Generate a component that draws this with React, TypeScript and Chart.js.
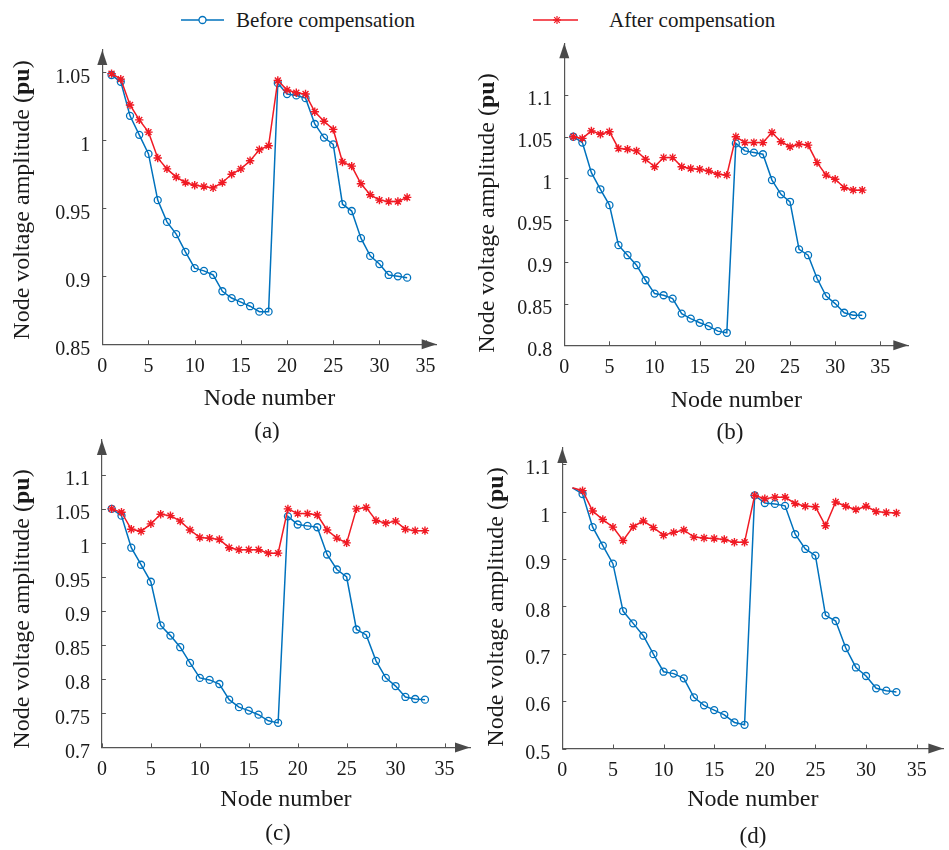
import React, { useEffect, useRef } from "react";
import { Chart, registerables } from "chart.js";

Chart.register(...registerables);

// ---------------- DATA ----------------
const nodes = [1, 2, 3, 4, 5, 6, 7, 8, 9, 10, 11, 12, 13, 14, 15, 16, 17, 18, 19, 20, 21, 22, 23, 24, 25, 26, 27, 28, 29, 30, 31, 32, 33];

const beforeA = [1.048, 1.043, 1.018, 1.004, 0.990, 0.956, 0.940, 0.931, 0.918, 0.906, 0.904, 0.901, 0.889, 0.884, 0.881, 0.878, 0.874, 0.874, 1.042, 1.034, 1.033, 1.031, 1.012, 1.002, 0.997, 0.953, 0.948, 0.928, 0.915, 0.909, 0.901, 0.900, 0.899];
const afterA = [1.049, 1.045, 1.026, 1.015, 1.006, 0.987, 0.979, 0.973, 0.969, 0.967, 0.966, 0.965, 0.969, 0.975, 0.979, 0.985, 0.993, 0.996, 1.044, 1.037, 1.035, 1.034, 1.021, 1.014, 1.008, 0.984, 0.981, 0.968, 0.960, 0.956, 0.955, 0.955, 0.958];

const beforeB = [1.050, 1.043, 1.007, 0.987, 0.968, 0.920, 0.908, 0.896, 0.878, 0.862, 0.860, 0.856, 0.838, 0.832, 0.827, 0.823, 0.817, 0.815, 1.042, 1.033, 1.031, 1.029, 0.998, 0.981, 0.972, 0.915, 0.908, 0.880, 0.859, 0.850, 0.839, 0.836, 0.836];
const afterB = [1.050, 1.048, 1.057, 1.053, 1.056, 1.036, 1.035, 1.033, 1.023, 1.014, 1.025, 1.025, 1.014, 1.012, 1.011, 1.009, 1.005, 1.004, 1.050, 1.043, 1.043, 1.043, 1.055, 1.044, 1.038, 1.041, 1.040, 1.019, 1.004, 0.999, 0.989, 0.986, 0.986];

const beforeC = [1.050, 1.040, 0.993, 0.968, 0.943, 0.879, 0.864, 0.847, 0.824, 0.802, 0.799, 0.793, 0.770, 0.759, 0.754, 0.748, 0.739, 0.736, 1.039, 1.027, 1.025, 1.023, 0.983, 0.961, 0.950, 0.873, 0.865, 0.827, 0.802, 0.790, 0.774, 0.771, 0.770];
const afterC = [1.050, 1.045, 1.020, 1.017, 1.028, 1.042, 1.040, 1.032, 1.019, 1.008, 1.007, 1.005, 0.993, 0.990, 0.990, 0.990, 0.985, 0.985, 1.050, 1.043, 1.043, 1.041, 1.019, 1.007, 1.000, 1.050, 1.052, 1.033, 1.029, 1.032, 1.020, 1.018, 1.018];

const beforeD = [1.050, 1.037, 0.967, 0.928, 0.890, 0.790, 0.764, 0.738, 0.699, 0.662, 0.658, 0.648, 0.608, 0.591, 0.581, 0.571, 0.555, 0.550, 1.034, 1.018, 1.016, 1.012, 0.952, 0.921, 0.907, 0.781, 0.769, 0.712, 0.671, 0.653, 0.627, 0.622, 0.619];
const afterD = [1.050, 1.044, 1.001, 0.983, 0.967, 0.939, 0.968, 0.980, 0.966, 0.950, 0.956, 0.961, 0.946, 0.944, 0.943, 0.941, 0.935, 0.935, 1.034, 1.027, 1.030, 1.030, 1.017, 1.011, 1.010, 0.970, 1.020, 1.011, 1.004, 1.011, 1.000, 0.998, 0.997];

const xTicks = [0, 5, 10, 15, 20, 25, 30, 35];
const yTicksA = [0.85, 0.9, 0.95, 1, 1.05];
const yTicksB = [0.8, 0.85, 0.9, 0.95, 1, 1.05, 1.1];
const yTicksC = [0.7, 0.75, 0.8, 0.85, 0.9, 0.95, 1, 1.05, 1.1];
const yTicksD = [0.5, 0.6, 0.7, 0.8, 0.9, 1, 1.1];

const seriesNames = ["Before compensation", "After compensation"];
const captions = ["(a)", "(b)", "(c)", "(d)"];
const xTitle = "Node number";
const yTitleMain = "Node voltage amplitude (";
const yTitleBold = "pu";
const yTitleEnd = ")";

// ---------------- STYLE ----------------
const FONT = '"Liberation Serif", "Times New Roman", serif';
const BLUE = "#0072BD";
const RED = "#F01A24";
const AXIS = "#555555";
const TEXT = "#1a1a1a";

type PanelCfg = {
  before: number[];
  after: number[];
  yTicks: number[];
  xMax: number;
  yMin: number;
  yMax: number;
  hideFirst: boolean;
  caption: string;
  canvas: [number, number, number, number];
  axisLeft: number;
  axisBottom: number;
  tipTop: number;
  tipRight: number;
  xTitleY: number;
  yTitleX: number;
  yTitleY: number;
  captionPos: [number, number];
};

const panels: PanelCfg[] = [
  {
    before: beforeA, after: afterA, yTicks: yTicksA, xMax: 36.2, yMin: 0.85, yMax: 1.0664, hideFirst: false, caption: captions[0],
    canvas: [0, 20, 470, 420], axisLeft: 102.3, axisBottom: 344.3, tipTop: 50, tipRight: 436.7,
    xTitleY: 398.3, yTitleX: 23, yTitleY: 200, captionPos: [267, 431],
  },
  {
    before: beforeB, after: afterB, yTicks: yTicksB, xMax: 38.1, yMin: 0.8, yMax: 1.162, hideFirst: false, caption: captions[1],
    canvas: [470, 13, 479, 427], axisLeft: 564.3, axisBottom: 345.3, tipTop: 43.3, tipRight: 908.3,
    xTitleY: 400.7, yTitleX: 488, yTitleY: 213, captionPos: [730, 432],
  },
  {
    before: beforeC, after: afterC, yTicks: yTicksC, xMax: 37.6, yMin: 0.7, yMax: 1.151, hideFirst: false, caption: captions[2],
    canvas: [0, 410, 480, 440], axisLeft: 101.9, axisBottom: 747.4, tipTop: 440, tipRight: 470,
    xTitleY: 800, yTitleX: 23, yTitleY: 609, captionPos: [278, 833],
  },
  {
    before: beforeD, after: afterD, yTicks: yTicksD, xMax: 37.64, yMin: 0.5, yMax: 1.134, hideFirst: true, caption: captions[3],
    canvas: [480, 418, 469, 432], axisLeft: 562.3, axisBottom: 748.5, tipTop: 448, tipRight: 947,
    xTitleY: 800, yTitleX: 497, yTitleY: 607, captionPos: [753, 836],
  },
];

function fmt(v: number) {
  return String(+Number(v).toFixed(2));
}

function Panel({ cfg }: { cfg: PanelCfg }) {
  const ref = useRef<HTMLCanvasElement | null>(null);
  const [cl, ct, cw, ch] = cfg.canvas;

  useEffect(() => {
    const canvas = ref.current;
    if (!canvas) return;

    const padTop = cfg.tipTop - ct;
    const padRight = cl + cw - cfg.tipRight;
    const yScaleW = cfg.axisLeft - cl;
    const xScaleH = ct + ch - cfg.axisBottom;
    const titleSize = 24;
    const titlePadBottom = ct + ch - cfg.xTitleY - (titleSize * 1.2) / 2;

    const decor = {
      id: "axisDecor",
      afterDraw(chart: any) {
        const { ctx, chartArea, scales } = chart;
        const xs = scales.x;
        const ys = scales.y;
        const x0 = chartArea.left;
        const y0 = chartArea.bottom;
        ctx.save();
        ctx.strokeStyle = AXIS;
        ctx.lineWidth = 1;
        // inward tick marks
        xTicks.forEach((v) => {
          const px = Math.round(xs.getPixelForValue(v)) + 0.5;
          ctx.beginPath();
          ctx.moveTo(px, y0);
          ctx.lineTo(px, y0 - 4);
          ctx.stroke();
        });
        cfg.yTicks.forEach((v) => {
          const py = Math.round(ys.getPixelForValue(v)) + 0.5;
          ctx.beginPath();
          ctx.moveTo(x0, py);
          ctx.lineTo(x0 + 4, py);
          ctx.stroke();
        });
        // arrowheads
        ctx.fillStyle = "#4a4a4a";
        ctx.beginPath();
        ctx.moveTo(x0, chartArea.top);
        ctx.lineTo(x0 - 5, chartArea.top + 15);
        ctx.lineTo(x0 + 5, chartArea.top + 15);
        ctx.closePath();
        ctx.fill();
        ctx.beginPath();
        ctx.moveTo(chartArea.right, y0);
        ctx.lineTo(chartArea.right - 15, y0 - 5);
        ctx.lineTo(chartArea.right - 15, y0 + 5);
        ctx.closePath();
        ctx.fill();
        // y-axis title with bold unit
        const tx = cfg.yTitleX - cl;
        const ty = cfg.yTitleY - ct;
        ctx.translate(tx, ty);
        ctx.rotate(-Math.PI / 2);
        ctx.fillStyle = TEXT;
        ctx.textBaseline = "middle";
        ctx.textAlign = "left";
        const normal = `${titleSize}px ${FONT}`;
        const bold = `bold ${titleSize}px ${FONT}`;
        ctx.font = normal;
        const w1 = ctx.measureText(yTitleMain).width;
        const w3 = ctx.measureText(yTitleEnd).width;
        ctx.font = bold;
        const w2 = ctx.measureText(yTitleBold).width;
        let sx = -(w1 + w2 + w3) / 2;
        ctx.font = normal;
        ctx.fillText(yTitleMain, sx, 0);
        sx += w1;
        ctx.font = bold;
        ctx.fillText(yTitleBold, sx, 0);
        sx += w2;
        ctx.font = normal;
        ctx.fillText(yTitleEnd, sx, 0);
        ctx.restore();
      },
    };

    const radiusFn = (r: number) => (c: any) => (cfg.hideFirst && c.dataIndex === 0 ? 0 : r);

    const chart = new Chart(canvas, {
      type: "line",
      data: {
        datasets: [
          {
            label: seriesNames[1],
            data: nodes.map((n, i) => ({ x: n, y: cfg.after[i] })),
            borderColor: RED,
            backgroundColor: RED,
            borderWidth: 1.5,
            pointStyle: "star",
            pointRadius: radiusFn(4.2),
            pointBorderWidth: 1.4,
            pointBorderColor: RED,
            fill: false,
            tension: 0,
            order: 0,
          },
          {
            label: seriesNames[0],
            data: nodes.map((n, i) => ({ x: n, y: cfg.before[i] })),
            borderColor: BLUE,
            backgroundColor: "rgba(255,255,255,0)",
            borderWidth: 1.5,
            pointStyle: "circle",
            pointRadius: radiusFn(3.5),
            pointBorderWidth: 1.3,
            pointBorderColor: BLUE,
            pointBackgroundColor: "rgba(255,255,255,0)",
            fill: false,
            tension: 0,
            order: 1,
          },
        ],
      },
      options: {
        responsive: false,
        animation: false,
        events: [],
        layout: { padding: { top: padTop, right: padRight, left: 0, bottom: 0 } },
        plugins: { legend: { display: false }, tooltip: { enabled: false }, title: { display: false } },
        scales: {
          x: {
            type: "linear",
            min: 0,
            max: cfg.xMax,
            afterBuildTicks: (s: any) => {
              s.ticks = xTicks.map((v) => ({ value: v }));
            },
            afterFit: (s: any) => {
              s.height = xScaleH;
            },
            grid: { display: false, drawTicks: false },
            border: { display: true, color: AXIS, width: 1.2 },
            ticks: {
              padding: 10,
              color: TEXT,
              font: { family: FONT, size: 20 },
              maxRotation: 0,
              autoSkip: false,
              callback: (v: any) => String(v),
            },
            title: {
              display: true,
              text: xTitle,
              color: TEXT,
              font: { family: FONT, size: titleSize },
              padding: { top: 0, bottom: titlePadBottom },
            },
          },
          y: {
            type: "linear",
            min: cfg.yMin,
            max: cfg.yMax,
            afterBuildTicks: (s: any) => {
              s.ticks = cfg.yTicks.map((v) => ({ value: v }));
            },
            afterFit: (s: any) => {
              s.width = yScaleW;
            },
            grid: { display: false, drawTicks: false },
            border: { display: true, color: AXIS, width: 1.2 },
            ticks: {
              padding: 12,
              labelOffset: 5,
              color: TEXT,
              font: { family: FONT, size: 20 },
              autoSkip: false,
              callback: (v: any) => fmt(v),
            },
          },
        },
      },
      plugins: [decor],
    } as any);

    return () => {
      chart.destroy();
    };
  }, []);

  return (
    <>
      <canvas
        ref={ref}
        width={cw}
        height={ch}
        style={{ position: "absolute", left: cl, top: ct, width: cw, height: ch }}
      />
      <div
        style={{
          position: "absolute",
          left: cfg.captionPos[0] - 40,
          top: cfg.captionPos[1] - 14,
          width: 80,
          height: 28,
          lineHeight: "28px",
          textAlign: "center",
          fontFamily: FONT,
          fontSize: 23,
          color: TEXT,
        }}
      >
        {cfg.caption}
      </div>
    </>
  );
}

function Legend() {
  const textStyle: React.CSSProperties = {
    position: "absolute",
    top: 8,
    height: 24,
    lineHeight: "24px",
    fontFamily: FONT,
    fontSize: 21,
    color: TEXT,
    whiteSpace: "nowrap",
  };
  return (
    <>
      <svg style={{ position: "absolute", left: 0, top: 0 }} width={949} height={40}>
        <line x1={181} y1={20} x2={224} y2={20} stroke={BLUE} strokeWidth={1.5} />
        <circle cx={202.5} cy={20} r={3.5} fill="#fff" stroke={BLUE} strokeWidth={1.3} />
        <line x1={533} y1={20} x2={578} y2={20} stroke={RED} strokeWidth={1.5} />
        <g stroke={RED} strokeWidth={1.2}>
          <line x1={557} y1={16} x2={557} y2={24} />
          <line x1={553} y1={20} x2={561} y2={20} />
          <line x1={554.2} y1={17.2} x2={559.8} y2={22.8} />
          <line x1={554.2} y1={22.8} x2={559.8} y2={17.2} />
        </g>
      </svg>
      <div style={{ ...textStyle, left: 236 }}>{seriesNames[0]}</div>
      <div style={{ ...textStyle, left: 609 }}>{seriesNames[1]}</div>
    </>
  );
}

export default function App() {
  return (
    <div
      style={{
        position: "absolute",
        left: 0,
        top: 0,
        width: 949,
        height: 850,
        background: "#ffffff",
        overflow: "hidden",
      }}
    >
      <Legend />
      {panels.map((p, i) => (
        <Panel key={i} cfg={p} />
      ))}
    </div>
  );
}
